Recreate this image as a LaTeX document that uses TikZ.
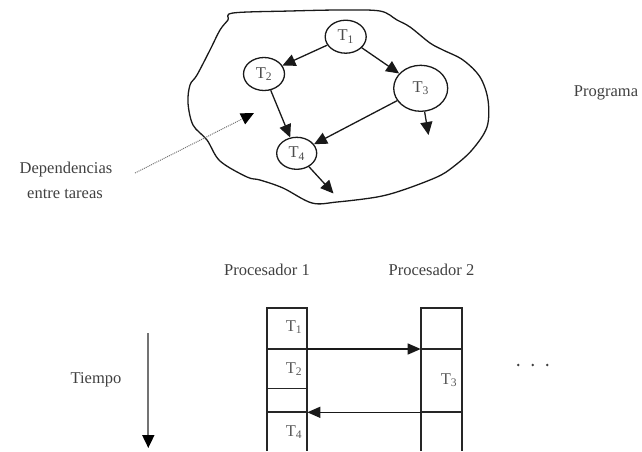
\documentclass[tikz,border=0pt]{standalone}
\usepackage{fontspec}
\setmainfont{Liberation Serif}
\usetikzlibrary{arrows.meta,shapes.geometric}

\tikzset{
  lbl/.style={font=\fontsize{16.5}{19}\selectfont, text=black!75, inner sep=0pt},
  task/.style={ellipse, draw=black!90, line width=1.3pt, inner sep=0pt,
               font=\fontsize{16.5}{19}\selectfont, text=black!70},
  dep/.style={draw=black!90, line width=1.3pt,
              -{Triangle[length=13pt,width=12pt]}},
  hint/.style={draw=black!55, densely dotted, line width=1pt,
               -{Triangle[length=13pt,width=12pt,fill=black,color=black]}},
  col/.style={draw=black!85, line width=1.7pt},
  msg/.style={draw=black!90, line width=1.4pt,
              -{Triangle[length=13pt,width=11pt]}},
  cell/.style={font=\fontsize{16.5}{19}\selectfont, text=black!65, inner sep=0pt}
}

\begin{document}
\begin{tikzpicture}[x=1pt,y=-1pt]
\useasboundingbox (0,0) rectangle (642,451);

% program outline
\draw[black!90, line width=1.3pt] plot[smooth cycle, tension=0.55] coordinates {
  (233,13) (290,11) (340,10) (380,11) (397,20) (410,27) (430,43) (443,50)
  (463,60) (480,77) (488,100) (487,127) (472,150) (453,167) (437,177)
  (403,190) (377,197) (337,202) (312,203) (283,188) (260,180) (247,177)
  (220,161) (207,140) (193,125) (188,103) (190,85) (197,75) (210,50)
  (220,30) (228,20)};

% task graph
\node[task, minimum width=41pt, minimum height=33pt] (t1) at (345.7,36.7) {T\textsubscript{1}};
\node[task, minimum width=41pt, minimum height=33pt] (t2) at (264,74) {T\textsubscript{2}};
\node[task, minimum width=54pt, minimum height=46pt] (t3) at (420.7,88.3) {T\textsubscript{3}};
\node[task, minimum width=40pt, minimum height=32pt] (t4) at (296.7,153.3) {T\textsubscript{4}};
\coordinate (t3out) at (428.5,135);
\coordinate (t4out) at (333.5,193.5);

\draw[dep] (t1) -- (t2);
\draw[dep] (t1) -- (t3);
\draw[dep] (t2) -- (t4);
\draw[dep] (t3) -- (t4);
\draw[dep] (t3) -- (t3out);
\draw[dep] (t4) -- (t4out);

% labels
\node[lbl] (prog) at (606,93) {Programa};
\node[lbl] (deplbl1) at (66,170) {Dependencias};
\node[lbl] (deplbl2) at (65,194) {entre tareas};
\coordinate (hintstart) at (135,173);
\coordinate (hintend) at (254,113);
\draw[hint] (hintstart) -- (hintend);

% processors
\node[lbl] (p1) at (267,270) {Procesador 1};
\node[lbl] (p2) at (431.5,270) {Procesador 2};

% processor 1 column
\draw[col] (266.7,451) -- (266.7,308.3) -- (307.3,308.3) -- (307.3,451);
\draw[col] (266.7,349) -- (307.3,349);
\draw[col] (266.7,388.5) -- (307.3,388.5);
\draw[col] (266.7,412.3) -- (307.3,412.3);
\node[cell] (c1) at (294,327) {T\textsubscript{1}};
\node[cell] (c2) at (294,369) {T\textsubscript{2}};
\node[cell] (c4) at (294,432) {T\textsubscript{4}};

% processor 2 column
\draw[col] (420.7,451) -- (420.7,307.8) -- (461.7,307.8) -- (461.7,451);
\draw[col] (420.7,349) -- (461.7,349);
\draw[col] (420.7,412.3) -- (461.7,412.3);
\node[cell] (c3) at (449,380) {T\textsubscript{3}};

% messages between processors
\coordinate (p1a) at (307.3,349);
\coordinate (p2a) at (420.7,349);
\coordinate (p2b) at (420.7,412.3);
\coordinate (p1b) at (307.3,412.3);
\draw[msg] (p1a) -- (p2a);
\draw[msg] (p2b) -- (p1b);

% time axis
\node[lbl] (tiempo) at (96,380) {Tiempo};
\coordinate (tstart) at (148.3,333);
\coordinate (tend) at (148.3,448);
\draw[draw=black!55, line width=1.8pt, -{Triangle[length=13pt,width=12pt,fill=black,color=black]}] (tstart) -- (tend);

% further processors
\fill[black!75] (518.3,365) circle (1.4) (532.7,365) circle (1.4) (547.3,365) circle (1.4);
\end{tikzpicture}
\end{document}
